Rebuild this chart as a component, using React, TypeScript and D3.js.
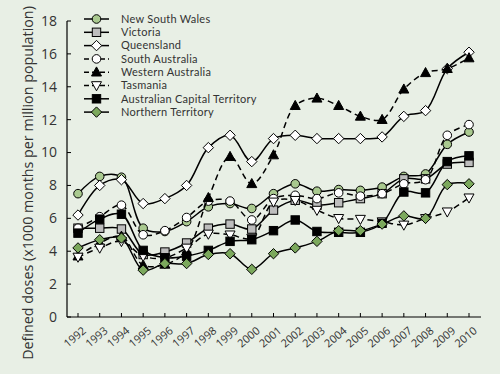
import React from 'react';
import * as d3 from 'd3';

const years = [1992, 1993, 1994, 1995, 1996, 1997, 1998, 1999, 2000, 2001, 2002, 2003, 2004, 2005, 2006, 2007, 2008, 2009, 2010];

const nsw = [7.5, 8.55, 8.5, 5.4, 5.2, 5.8, 6.7, 6.9, 6.6, 7.5, 8.1, 7.65, 7.75, 7.7, 7.9, 8.55, 8.7, 10.5, 11.25];
const vic = [5.4, 5.4, 5.35, 3.8, 3.95, 4.5, 5.4, 5.65, 5.35, 6.5, 7.1, 6.8, 6.95, 7.2, 7.5, 8.4, 8.4, 9.3, 9.4];
const qld = [6.2, 8.0, 8.35, 6.9, 7.2, 8.0, 10.3, 11.05, 9.45, 10.85, 11.05, 10.85, 10.85, 10.85, 10.95, 12.2, 12.55, 15.1, 16.1];
const sa = [5.4, 6.1, 6.8, 5.0, 5.25, 6.05, 7.05, 7.05, 5.9, 7.2, 7.4, 7.2, 7.55, 7.35, 7.5, 8.1, 8.35, 11.05, 11.7];
const wa = [3.7, 4.5, 4.9, 3.15, 3.2, 4.0, 7.25, 9.75, 8.1, 9.85, 12.85, 13.3, 12.85, 12.2, 12.0, 13.85, 14.85, 15.1, 15.75];
const tas = [3.65, 4.2, 4.6, 3.7, 3.6, 4.2, 5.05, 5.0, 4.8, 7.0, 7.1, 6.5, 6.0, 5.95, 5.8, 5.6, 6.0, 6.4, 7.25];
const act = [5.1, 5.95, 6.25, 4.05, 3.6, 3.7, 4.05, 4.6, 4.7, 5.25, 5.9, 5.2, 5.15, 5.15, 5.7, 7.6, 7.55, 9.45, 9.8];
const nt = [4.2, 4.7, 4.8, 2.85, 3.25, 3.25, 3.8, 3.85, 2.9, 3.85, 4.2, 4.6, 5.25, 5.25, 5.65, 6.15, 6.0, 8.05, 8.1];

const yTicks = [0, 2, 4, 6, 8, 10, 12, 14, 16, 18];

const series = [
  { name: 'New South Wales', values: nsw, shape: 'circle', fill: '#a9c98f', dash: '' },
  { name: 'Victoria', values: vic, shape: 'square', fill: '#bdbdbd', dash: '' },
  { name: 'Queensland', values: qld, shape: 'diamond', fill: '#ffffff', dash: '' },
  { name: 'South Australia', values: sa, shape: 'circle', fill: '#ffffff', dash: '6,4' },
  { name: 'Western Australia', values: wa, shape: 'triangle', fill: '#000000', dash: '6,4' },
  { name: 'Tasmania', values: tas, shape: 'triangleDown', fill: '#ffffff', dash: '6,4' },
  { name: 'Australian Capital Territory', values: act, shape: 'square', fill: '#000000', dash: '' },
  { name: 'Northern Territory', values: nt, shape: 'diamond', fill: '#7ba85c', dash: '' },
];

const font = "'Open Sans', sans-serif";
const bg = '#e8efe5';
const ink = '#333';

const x = d3.scaleLinear().domain([1992, 2010]).range([78, 469]);
const y = d3.scaleLinear().domain([0, 18]).range([317, 21]);

const line = d3.line<number>()
  .x((d, i) => x(years[i]))
  .y(d => y(d))
  .curve(d3.curveCatmullRom.alpha(0.5));

function Marker({ shape, fill, cx, cy }: { shape: string; fill: string; cx: number; cy: number }) {
  const s = { fill, stroke: '#000', strokeWidth: 1 };
  if (shape === 'circle') return <circle cx={cx} cy={cy} r={4.3} {...s} />;
  if (shape === 'square') return <rect x={cx - 4.2} y={cy - 4.2} width={8.4} height={8.4} {...s} />;
  if (shape === 'diamond')
    return <path d={`M${cx},${cy - 5.2}L${cx + 5.2},${cy}L${cx},${cy + 5.2}L${cx - 5.2},${cy}Z`} {...s} />;
  if (shape === 'triangle')
    return <path d={`M${cx},${cy - 5.3}L${cx + 5},${cy + 3.8}L${cx - 5},${cy + 3.8}Z`} {...s} />;
  return <path d={`M${cx},${cy + 5.3}L${cx + 5},${cy - 3.8}L${cx - 5},${cy - 3.8}Z`} {...s} />;
}

export default function App() {
  return (
    <svg width={500} height={374} style={{ position: 'absolute', left: 0, top: 0, background: bg }} fontFamily={font}>
      <rect x={0} y={0} width={500} height={374} fill={bg} />
      {/* axes */}
      <line x1={67} x2={67} y1={y(18)} y2={y(0)} stroke="#000" strokeWidth={1.2} />
      <line x1={67} x2={481} y1={y(0)} y2={y(0)} stroke="#000" strokeWidth={1.2} />
      {yTicks.map(t => (
        <g key={t}>
          <line x1={67} x2={71} y1={y(t)} y2={y(t)} stroke="#000" />
          <text x={57} y={y(t)} dy="0.35em" textAnchor="end" fontSize={14} fill={ink}>{t}</text>
        </g>
      ))}
      {years.map(yr => (
        <g key={yr}>
          <line x1={x(yr)} x2={x(yr)} y1={y(0)} y2={y(0) - 4} stroke="#000" />
          <text transform={`translate(${x(yr) + 4},${y(0) + 9}) rotate(-40)`} textAnchor="end" dy="0.7em"
            fontSize={11} fill={ink}>{yr}</text>
        </g>
      ))}
      <text transform={`translate(33,${(y(0) + y(18)) / 2 + 14}) rotate(-90)`} textAnchor="middle" fontSize={14.3} fill={ink}>
        Defined doses (x1000 months per million population)
      </text>
      {/* series */}
      {series.map(s => (
        <g key={s.name}>
          <path d={line(s.values) || ''} fill="none" stroke="#000" strokeWidth={1.5} strokeDasharray={s.dash} />
          {s.values.map((v, i) => (
            <Marker key={i} shape={s.shape} fill={s.fill} cx={x(years[i])} cy={y(v)} />
          ))}
        </g>
      ))}
      {/* legend */}
      {series.map((s, i) => {
        const ly = 19 + i * 13.3;
        return (
          <g key={s.name}>
            <line x1={84} x2={109} y1={ly} y2={ly} stroke="#000" strokeWidth={1.5} strokeDasharray={s.dash ? '5,3' : ''} />
            <Marker shape={s.shape} fill={s.fill} cx={96.5} cy={ly} />
            <text x={121} y={ly} dy="0.35em" fontSize={11} fontFamily="Lato, sans-serif" letterSpacing={0.25} fill={ink}>{s.name}</text>
          </g>
        );
      })}
    </svg>
  );
}
